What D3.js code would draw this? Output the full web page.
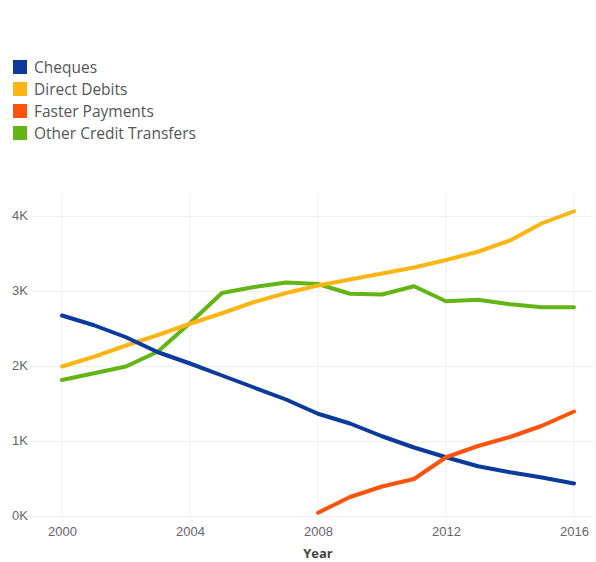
<!DOCTYPE html>
<html>
<head>
<meta charset="utf-8">
<script src="https://cdn.jsdelivr.net/npm/d3@7"></script>
<style>
  body { margin: 0; background: #fff; font-family: "Open Sans", "DejaVu Sans", sans-serif; }
  .gridline { stroke: #f0f0f0; stroke-width: 1; }
  .tick text { fill: #666; font-size: 13px; }
  .legend text { fill: #555; font-size: 15.5px; }
</style>
</head>
<body>
<svg id="chart"></svg>
<script>
// Define dimensions for the svg canvas
var width = 596;
var height = 562;

var years = [2000, 2001, 2002, 2003, 2004, 2005, 2006, 2007, 2008,
             2009, 2010, 2011, 2012, 2013, 2014, 2015, 2016];
var seriesNames = ["Cheques", "Direct Debits", "Faster Payments", "Other Credit Transfers"];
var seriesColors = ["#0b3a9c", "#fdb515", "#ff530d", "#62b514"];

var cheques = [2680, 2550, 2390, 2190, 2040, 1880, 1720, 1560, 1370,
               1240, 1070, 920, 790, 670, 590, 520, 440];
var directDebits = [2000, 2130, 2280, 2420, 2570, 2710, 2860, 2980, 3080,
                    3160, 3240, 3320, 3420, 3530, 3680, 3910, 4070];
var fasterPayments = [null, null, null, null, null, null, null, null, 50,
                      260, 400, 500, 790, 940, 1060, 1210, 1400];
var otherCredit = [1820, 1910, 2000, 2200, 2580, 2980, 3060, 3120, 3100,
                   2970, 2960, 3070, 2870, 2890, 2830, 2790, 2790];

var yTicks = [0, 1000, 2000, 3000, 4000];
var xTicks = [2000, 2004, 2008, 2012, 2016];

var svg = d3.select("svg#chart")
  .attr("width", width)
  .attr("height", height);

var xScale = d3.scaleLinear()
  .domain([2000, 2016])
  .range([62, 574]);

var yScale = d3.scaleLinear()
  .domain([0, 4000])
  .range([516.5, 216.5]);

// grid lines
svg.selectAll("line.hgrid")
  .data(yTicks)
  .enter()
  .append("line")
  .attr("class", "gridline")
  .attr("x1", 30)
  .attr("x2", 594)
  .attr("y1", function(d) { return yScale(d); })
  .attr("y2", function(d) { return yScale(d); });

svg.selectAll("line.vgrid")
  .data(xTicks)
  .enter()
  .append("line")
  .attr("class", "gridline")
  .attr("x1", function(d) { return xScale(d); })
  .attr("x2", function(d) { return xScale(d); })
  .attr("y1", 193)
  .attr("y2", 518);

// y axis
var yAxis = d3.axisLeft(yScale)
  .tickValues(yTicks)
  .tickSize(0)
  .tickPadding(2)
  .tickFormat(function(d) { return (d / 1000) + "K"; });

svg.append("g")
  .attr("class", "yAxis")
  .attr("transform", "translate(30,0)")
  .call(yAxis)
  .call(function(g) { g.select(".domain").remove(); })
  .selectAll("text")
  .attr("dy", "0.2em");

// x axis
var xAxis = d3.axisBottom(xScale)
  .tickValues(xTicks)
  .tickSize(0)
  .tickPadding(9)
  .tickFormat(d3.format("d"));

svg.append("g")
  .attr("class", "xAxis")
  .attr("transform", "translate(0,518)")
  .call(xAxis)
  .call(function(g) { g.select(".domain").remove(); });

svg.append("text")
  .attr("x", xScale(2008))
  .attr("y", 558)
  .style("text-anchor", "middle")
  .style("font-size", "13px")
  .style("font-weight", "bold")
  .style("fill", "#444")
  .text("Year");

// lines
var allSeries = [cheques, directDebits, fasterPayments, otherCredit];
var drawOrder = [3, 1, 0, 2];

var line = d3.line()
  .defined(function(d) { return d != null; })
  .x(function(d, i) { return xScale(years[i]); })
  .y(function(d) { return yScale(d); });

drawOrder.forEach(function(k) {
  svg.append("path")
    .attr("d", line(allSeries[k]))
    .attr("fill", "none")
    .attr("stroke", seriesColors[k])
    .attr("stroke-width", 4)
    .attr("stroke-linecap", "round")
    .attr("stroke-linejoin", "round");
});

// legend
var legend = svg.append("g")
  .attr("class", "legend")
  .attr("transform", "translate(13,60)");

var legend_el = legend.selectAll("g.legend_el")
  .data(seriesNames)
  .enter()
  .append("g")
  .attr("class", "legend_el")
  .attr("transform", function(d, i) { return "translate(0," + (i * 22) + ")"; });

legend_el.append("rect")
  .attr("width", 14)
  .attr("height", 14)
  .attr("fill", function(d, i) { return seriesColors[i]; });

legend_el.append("text")
  .attr("x", 21)
  .attr("y", 13)
  .text(function(d) { return d; });
</script>
</body>
</html>
